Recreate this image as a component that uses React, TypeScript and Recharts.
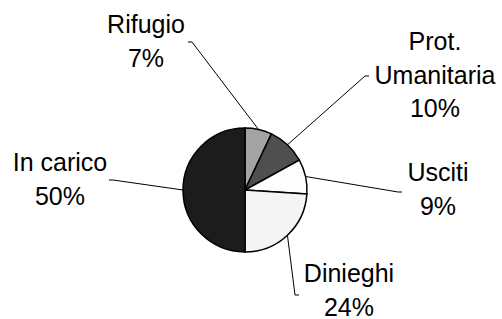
import { PieChart, Pie, Cell } from "recharts";

const categories = ["Rifugio", "Prot.\nUmanitaria", "Usciti", "Dinieghi", "In carico"];
const shares = [7, 10, 9, 24, 50];
const sliceColors = ["#a3a3a3", "#4f4f4f", "#fdfdfd", "#f4f4f4", "#1c1c1c"];

// label placement relative to the pie centre (text centre / first baseline, leader end, tick side)
const labelOffsets = [
  { dx: -99, dy: -157, lx: -53, ly: -148, tick: -4 },
  { dx: 190, dy: -140, lx: 120, ly: -114, tick: 4 },
  { dx: 193, dy: -9, lx: 153, ly: 2, tick: 4 },
  { dx: 104, dy: 92, lx: 50, ly: 105, tick: 4 },
  { dx: -185, dy: -19, lx: -132, ly: -10, tick: -4 },
];

const data = categories.map((name, i) => ({ name, value: shares[i] }));

const RADIAN = Math.PI / 180;
const LINE_H = 33.5;

function renderLabel(props: any) {
  const { cx, cy, midAngle, outerRadius, index, percent } = props;
  const o = labelOffsets[index];
  const sx = cx + outerRadius * Math.cos(-midAngle * RADIAN);
  const sy = cy + outerRadius * Math.sin(-midAngle * RADIAN);
  const ex = cx + o.lx;
  const ey = cy + o.ly;
  const lines = [...data[index].name.split("\n"), `${Math.round(percent * 100)}%`];
  return (
    <g key={`lbl-${index}`}>
      <polyline
        points={`${sx},${sy} ${ex},${ey} ${ex + o.tick},${ey}`}
        fill="none"
        stroke="#000"
        strokeWidth={1}
      />
      <text
        x={cx + o.dx}
        y={cy + o.dy}
        textAnchor="middle"
        fontFamily="Liberation Sans, Arial, sans-serif"
        fontSize={25}
        fill="#000"
      >
        {lines.map((t, k) => (
          <tspan key={k} x={cx + o.dx} dy={k === 0 ? 0 : LINE_H}>
            {t}
          </tspan>
        ))}
      </text>
    </g>
  );
}

export default function App() {
  return (
    <div style={{ width: 502, height: 319, background: "#fff" }}>
      <style>{`body{margin:0}`}</style>
      <PieChart width={502} height={319} margin={{ top: 0, right: 0, bottom: 0, left: 0 }}>
        <Pie
          data={data}
          dataKey="value"
          nameKey="name"
          cx={245}
          cy={190}
          outerRadius={62}
          startAngle={90}
          endAngle={-270}
          stroke="#000"
          strokeWidth={1.5}
          label={renderLabel}
          labelLine={false}
          isAnimationActive={false}
        >
          {data.map((d, i) => (
            <Cell key={d.name} fill={sliceColors[i]} />
          ))}
        </Pie>
      </PieChart>
    </div>
  );
}
